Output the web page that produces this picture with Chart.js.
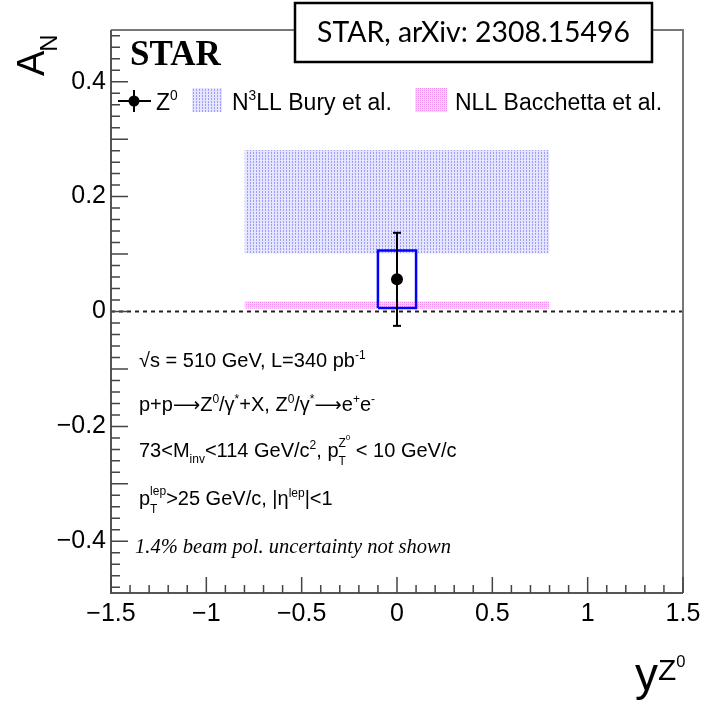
<!DOCTYPE html>
<html>
<head>
<meta charset="utf-8">
<script src="https://cdn.jsdelivr.net/npm/chart.js@4.4.0/dist/chart.umd.min.js"></script>
<style>
  body { margin: 0; background: #fff; }
  canvas { display: block; }
</style>
</head>
<body>
<canvas id="myChart" width="705" height="701"></canvas>
<script>
// Z0 measurement (point, stat. error, sys. box)
var yZ = [0];
var aN = [0.056];
var statErr = [0.081];
var sysErr = [0.05];
var sysHalfWidth = [0.1];

// theory bands
var bandX = [-0.8, 0.8];
var buryLow = [0.101, 0.101];
var buryHigh = [0.281, 0.281];
var bacchettaLow = [0.005, 0.005];
var bacchettaHigh = [0.018, 0.018];

// axes
var xRange = [-1.5, 1.5];
var yRange = [-0.49, 0.49];
var xTicks = [-1.5, -1, -0.5, 0, 0.5, 1, 1.5];
var xTickLabels = ['\u22121.5', '\u22121', '\u22120.5', '0', '0.5', '1', '1.5'];
var yTicks = [-0.4, -0.2, 0, 0.2, 0.4];
var yTickLabels = ['\u22120.4', '\u22120.2', '0', '0.2', '0.4'];

var SANS = '"Liberation Sans", Arial, sans-serif';
var SERIF = '"Liberation Serif", "Times New Roman", serif';
var SYM = '"DejaVu Sans", sans-serif';

var ctx = document.getElementById("myChart").getContext('2d');

// ROOT-like dotted fill patterns
function dots(bg, fg, w, h, pts) {
  var c = document.createElement('canvas');
  c.width = w; c.height = h;
  var g = c.getContext('2d');
  g.fillStyle = bg; g.fillRect(0, 0, w, h);
  g.fillStyle = fg;
  pts.forEach(function(p) { g.fillRect(p[0], p[1], 1, 1); });
  return ctx.createPattern(c, 'repeat');
}
var buryFill = dots('rgba(190,190,255,0.4)', 'rgba(120,120,255,0.65)', 3, 3, [[1, 0], [1, 2]]);
var bacFill = dots('rgba(248,170,248,0.45)', 'rgba(240,100,240,0.65)', 2, 2, [[0, 0]]);

function pts(xs, ys) { return xs.map(function(x, i) { return {x: x, y: ys[i]}; }); }

// box for systematic uncertainty
var sysBox = [];
yZ.forEach(function(x, i) {
  var w = sysHalfWidth[i], lo = aN[i] - sysErr[i], hi = aN[i] + sysErr[i];
  sysBox.push({x: x - w, y: lo}, {x: x + w, y: lo}, {x: x + w, y: hi}, {x: x - w, y: hi}, {x: x - w, y: lo});
});
var statBar = [];
yZ.forEach(function(x, i) {
  statBar.push({x: x, y: aN[i] - statErr[i]}, {x: x, y: aN[i] + statErr[i]});
});

// rich text: segments [text, scale, dy(em), stack, family]
function rich(c, x, y, size, segs, family) {
  var stackW = null;
  segs.forEach(function(s) {
    var fs = size * (s[1] || 1);
    c.font = fs + 'px ' + (s[4] || family || SANS);
    c.fillText(s[0], x, y + (s[2] || 0) * size);
    var w = c.measureText(s[0]).width;
    if (s[3]) { stackW = w; return; }
    if (stackW !== null) { w = Math.max(w, stackW); stackW = null; }
    x += w;
  });
  return x;
}

var SUP = -0.42, SUB = 0.3;
var ARROW = ['\u27F6', 0.95, -0.02, false, SYM];

var decorations = {
  id: 'decorations',
  beforeDraw: function(chart) {
    var c = chart.ctx;
    c.save(); c.fillStyle = '#fff'; c.fillRect(0, 0, chart.width, chart.height); c.restore();
  },
  afterDraw: function(chart) {
    var c = chart.ctx, a = chart.chartArea, xs = chart.scales.x, ys = chart.scales.y;
    c.save();
    // frame
    c.lineWidth = 2;
    c.strokeStyle = '#777';
    c.beginPath();
    c.moveTo(a.left, a.top); c.lineTo(a.right, a.top); c.lineTo(a.right, a.bottom);
    c.stroke();
    c.strokeStyle = '#555';
    c.beginPath();
    c.moveTo(a.left, a.top); c.lineTo(a.left, a.bottom); c.lineTo(a.right, a.bottom);
    c.stroke();
    // ticks
    c.strokeStyle = '#444'; c.lineWidth = 1.5;
    c.beginPath();
    for (var i = -24; i <= 24; i++) {
      var py = ys.getPixelForValue(i * 0.02);
      var len = (i % 5 === 0) ? 17 : 9;
      c.moveTo(a.left, py); c.lineTo(a.left + len, py);
    }
    for (var j = -15; j <= 15; j++) {
      var px = xs.getPixelForValue(j * 0.1);
      var l2 = (j % 5 === 0) ? 16 : 8;
      c.moveTo(px, a.bottom); c.lineTo(px, a.bottom - l2);
    }
    c.stroke();

    c.fillStyle = '#000';
    c.textBaseline = 'alphabetic';
    c.textAlign = 'left';

    // STAR
    c.font = 'bold 35px ' + SERIF;
    c.fillText('STAR', 130, 65);

    // legend
    c.strokeStyle = '#000'; c.lineWidth = 2;
    c.beginPath();
    c.moveTo(118, 101); c.lineTo(151, 101);
    c.moveTo(134, 90); c.lineTo(134, 112);
    c.stroke();
    c.beginPath(); c.arc(134, 101, 5.5, 0, Math.PI * 2); c.fill();
    rich(c, 156, 110, 23, [['Z'], ['0', 0.6, SUP]]);
    c.fillStyle = buryFill; c.fillRect(192, 88, 30, 24);
    c.fillStyle = '#000';
    rich(c, 232, 110, 23, [['N'], ['3', 0.6, SUP], ['LL Bury et al.']]);
    c.fillStyle = bacFill; c.fillRect(415, 88, 32, 24);
    c.fillStyle = '#000';
    rich(c, 455, 110, 23, [['NLL Bacchetta et al.']]);

    // text block
    var fs = 20;
    rich(c, 139, 367, fs, [['\u221As = 510 GeV, L=340 pb'], ['-1', 0.6, SUP]]);
    rich(c, 139, 411, fs, [['p+p'], ARROW, ['Z'], ['0', 0.6, SUP], ['/\u03B3'], ['*', 0.6, SUP],
      ['+X, Z'], ['0', 0.6, SUP], ['/\u03B3'], ['*', 0.6, SUP], ARROW, ['e'], ['+', 0.6, SUP], ['e'], ['-', 0.6, SUP]]);
    rich(c, 139, 457, fs, [['73<M'], ['inv', 0.6, SUB], ['<114 GeV/c'], ['2', 0.6, SUP], [', p'],
      ['T', 0.6, 0.38, true], ['Z', 0.6, -0.5], ['0', 0.4, -0.85], [' < 10 GeV/c']]);
    rich(c, 139, 505, fs, [['p'], ['T', 0.6, 0.38, true], ['lep', 0.6, -0.5], ['>25 GeV/c, |\u03B7'],
      ['lep', 0.6, SUP], ['|<1']]);
    c.font = 'italic 20.5px ' + SERIF;
    c.fillText('1.4% beam pol. uncertainty not shown', 135, 553);

    // axis titles
    c.save();
    c.translate(44, 76);
    c.rotate(-Math.PI / 2);
    c.font = '38px ' + SANS;
    c.fillText('A', 0, 0);
    var wA = c.measureText('A').width;
    c.font = '24px ' + SANS;
    c.fillText('N', wA - 1, 13);
    c.restore();
    rich(c, 635, 690, 46, [['y'], ['Z', 0.65, -0.22], ['0', 0.36, -0.5]]);

    // reference box
    c.fillStyle = '#fff';
    c.fillRect(295, 3, 357, 59);
    c.strokeStyle = '#000'; c.lineWidth = 2.5;
    c.strokeRect(295, 3, 357, 59);
    c.fillStyle = '#000';
    var label = 'STAR, arXiv: 2308.15496';
    c.font = '28px Lato, "Open Sans", sans-serif';
    var sz = 28 * 313 / c.measureText(label).width;
    c.font = sz + 'px Lato, "Open Sans", sans-serif';
    c.textAlign = 'center'; c.textBaseline = 'middle';
    c.fillText(label, 473.5, 33);
    c.restore();
  }
};

var myChart = new Chart(ctx, {
  type: 'scatter',
  data: {
    datasets: [
      { data: pts(yZ, aN), pointRadius: 6, pointBackgroundColor: '#000', pointBorderWidth: 0, order: 0 },
      { data: statBar, showLine: true, borderColor: '#000', borderWidth: 2,
        pointStyle: 'line', pointRadius: 4, pointBorderColor: '#000', pointBorderWidth: 2, order: 1 },
      { data: sysBox, showLine: true, borderColor: '#0000ff', borderWidth: 2.5, pointRadius: 0, order: 2 },
      { data: pts(xRange, [0, 0]), showLine: true, borderColor: '#222', borderWidth: 2,
        borderDash: [4, 4], pointRadius: 0, order: 3 },
      { data: pts(bandX, buryHigh), showLine: true, fill: '+1', backgroundColor: buryFill,
        borderWidth: 0, pointRadius: 0, order: 4 },
      { data: pts(bandX, buryLow), showLine: true, borderWidth: 0, pointRadius: 0, order: 5 },
      { data: pts(bandX, bacchettaHigh), showLine: true, fill: '+1', backgroundColor: bacFill,
        borderWidth: 0, pointRadius: 0, order: 6 },
      { data: pts(bandX, bacchettaLow), showLine: true, borderWidth: 0, pointRadius: 0, order: 7 }
    ]
  },
  options: {
    responsive: false,
    animation: false,
    layout: { padding: { left: 0, top: 30, right: 22, bottom: 0 } },
    plugins: { legend: { display: false }, tooltip: { enabled: false } },
    scales: {
      x: {
        type: 'linear', min: xRange[0], max: xRange[1],
        grid: { display: false, drawTicks: false }, border: { display: false },
        afterBuildTicks: function(s) { s.ticks = xTicks.map(function(v) { return {value: v}; }); },
        afterFit: function(s) { s.height = 108; s.paddingLeft = 0; s.paddingRight = 0; },
        ticks: { padding: 6, color: '#000', font: { family: SANS, size: 25 }, maxRotation: 0,
          callback: function(v, i) { return xTickLabels[i]; } }
      },
      y: {
        type: 'linear', min: yRange[0], max: yRange[1],
        grid: { display: false, drawTicks: false }, border: { display: false },
        afterBuildTicks: function(s) { s.ticks = yTicks.map(function(v) { return {value: v}; }); },
        afterFit: function(s) { s.width = 111; s.paddingTop = 0; s.paddingBottom = 0; },
        ticks: { padding: 5, color: '#000', font: { family: SANS, size: 25 },
          callback: function(v, i) { return yTickLabels[i]; } }
      }
    }
  },
  plugins: [decorations]
});
</script>
</body>
</html>
